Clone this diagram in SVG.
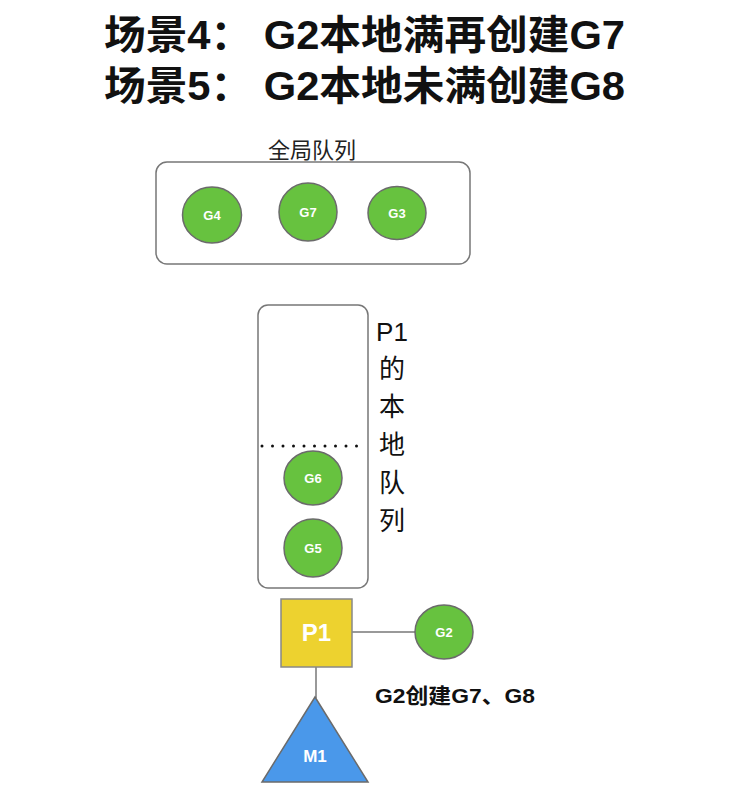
<svg xmlns="http://www.w3.org/2000/svg" width="737" height="810" viewBox="0 0 737 810">
<style>
.title{font-family:"Liberation Sans","Noto Sans CJK SC",sans-serif;font-weight:bold;font-size:40px;fill:#111}
.g circle,.g ellipse{fill:#67C23F;stroke:#6b6b6b;stroke-width:1.5}
.gt{font-family:"Liberation Sans",Arial,sans-serif;font-weight:bold;font-size:13px;fill:#fff;text-anchor:middle}
.box{fill:#fff;stroke:#777;stroke-width:1.5}
.lbl{font-family:"Noto Sans CJK SC","Liberation Sans",sans-serif;font-size:22px;fill:#222}
.vl{font-family:"Liberation Sans","Noto Sans CJK SC",sans-serif;font-size:26px;fill:#111;text-anchor:middle}
.conn line{stroke:#777;stroke-width:1.5}
</style>
<rect width="737" height="810" fill="#fff"/>
<g id="title">
<text class="title" x="104" y="49" textLength="521" lengthAdjust="spacingAndGlyphs">场景4： G2本地满再创建G7</text>
<text class="title" x="104" y="100" textLength="521" lengthAdjust="spacingAndGlyphs">场景5： G2本地未满创建G8</text>
</g>
<g id="global-queue">
<text class="lbl" x="312" y="158" text-anchor="middle">全局队列</text>
<rect class="box" x="156" y="162" width="314" height="102" rx="11"/>
</g>
<g id="G4" class="g"><ellipse cx="212" cy="215" rx="29.5" ry="28"/><text class="gt" x="212" y="220">G4</text></g>
<g id="G7" class="g"><ellipse cx="308" cy="212" rx="29" ry="29"/><text class="gt" x="308" y="217">G7</text></g>
<g id="G3" class="g"><ellipse cx="397" cy="213" rx="29" ry="26.5"/><text class="gt" x="397" y="218">G3</text></g>
<g id="local-queue">
<rect class="box" x="258" y="305" width="110" height="283" rx="10"/>
<line x1="262" y1="446" x2="357" y2="446" stroke="#111" stroke-width="3" stroke-dasharray="0 10.5" stroke-linecap="round"/>
<text class="vl" x="392" y="341">P1</text>
<text class="vl" x="392" y="378">的</text>
<text class="vl" x="392" y="416">本</text>
<text class="vl" x="392" y="454">地</text>
<text class="vl" x="392" y="492">队</text>
<text class="vl" x="392" y="530">列</text>
</g>
<g id="G6" class="g"><ellipse cx="313" cy="478" rx="29" ry="27"/><text class="gt" x="313" y="483">G6</text></g>
<g id="G5" class="g"><ellipse cx="313" cy="548" rx="29" ry="29"/><text class="gt" x="313" y="553">G5</text></g>
<g id="connectors" class="conn">
<line x1="352" y1="632" x2="415" y2="632"/>
<line x1="316" y1="667" x2="316" y2="698"/>
</g>
<g id="P1">
<rect x="281" y="599" width="71" height="68" fill="#EDD22F" stroke="#888" stroke-width="1.5"/>
<text x="316.5" y="641" font-family="Liberation Sans,Arial,sans-serif" font-weight="bold" font-size="24" fill="#fff" text-anchor="middle">P1</text>
</g>
<g id="G2" class="g"><ellipse cx="444" cy="632" rx="29" ry="27"/><text class="gt" x="444" y="637">G2</text></g>
<g id="M1">
<polygon points="315,697 368,782 262,782" fill="#4A98EA" stroke="#6b6b6b" stroke-width="1.5"/>
<text x="315" y="762" font-family="Liberation Sans,Arial,sans-serif" font-weight="bold" font-size="17" fill="#fff" text-anchor="middle">M1</text>
</g>
<text x="375" y="703" font-family="Liberation Sans,Noto Sans CJK SC,sans-serif" font-weight="bold" font-size="21" fill="#111" textLength="160" lengthAdjust="spacingAndGlyphs">G2创建G7、G8</text>
</svg>
